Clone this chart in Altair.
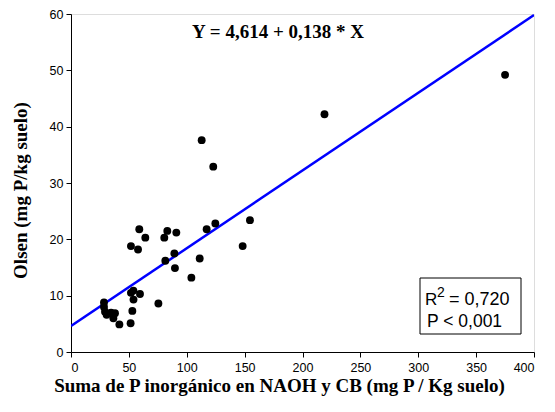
import altair as alt
import pandas as pd

# Data
x_vals = [112.9, 122.9, 124.7, 117.2, 59.0, 64.2, 51.8, 57.9, 83.2, 80.6,
          91.0, 89.3, 81.5, 89.8, 111.2, 104.0, 75.5, 51.8, 53.9, 59.6,
          54.0, 53.0, 51.5, 41.8, 28.5, 28.5, 29.4, 30.8, 34.6, 38.0,
          36.6, 219.0, 375.0, 154.6, 148.3]
y_vals = [37.6, 32.9, 22.8, 21.8, 21.8, 20.3, 18.8, 18.2, 21.5, 20.3,
          21.2, 17.5, 16.2, 14.9, 16.6, 13.2, 8.6, 10.5, 10.9, 10.3,
          9.3, 7.3, 5.1, 4.9, 8.8, 8.0, 7.15, 6.6, 7.0, 6.9,
          6.0, 42.2, 49.2, 23.4, 18.8]
intercept = 4.614
slope = 0.138
line_x = [0, 400]
x_ticks = [0, 50, 100, 150, 200, 250, 300, 350, 400]
y_ticks = [0, 10, 20, 30, 40, 50, 60]

pts = pd.DataFrame({"x": x_vals, "y": y_vals})
fit = pd.DataFrame({"x": line_x, "y": [intercept + slope * v for v in line_x]})

W, H = 463, 338
xscale = alt.Scale(domain=[0, 400], nice=False, zero=False)
yscale = alt.Scale(domain=[0, 60], nice=False, zero=False)

xaxis = alt.Axis(values=x_ticks, grid=False, title="Suma de P inorgánico en NAOH y CB (mg P / Kg suelo)",
                 titleFont="Liberation Serif", titleFontSize=19, titleFontWeight="bold", titleColor="black",
                 titleX=208, titleY=33, titleBaseline="middle", titleAnchor="start", titleAlign="center",
                 labelFont="Liberation Sans", labelFontSize=12.5, labelColor="black", labelPadding=4,
                 tickColor="black", tickSize=5, domainColor="black")
yaxis = alt.Axis(values=y_ticks, grid=False, title="Olsen (mg P/kg suelo)",
                 titleFont="Liberation Serif", titleFontSize=19, titleFontWeight="bold", titleColor="black",
                 titleX=-51, titleY=176, titleBaseline="middle", titleAlign="center", titleAngle=270,
                 labelFont="Liberation Sans", labelFontSize=12.5, labelColor="black", labelPadding=3,
                 tickColor="black", tickSize=5, domainColor="black")

line = alt.Chart(fit).mark_line(color="#0000FF", strokeWidth=2.5, clip=True).encode(
    x=alt.X("x:Q", scale=xscale, axis=xaxis),
    y=alt.Y("y:Q", scale=yscale, axis=yaxis),
)
points = alt.Chart(pts).mark_circle(color="black", opacity=1, size=62).encode(
    x=alt.X("x:Q", scale=xscale),
    y=alt.Y("y:Q", scale=yscale),
)

annot = pd.DataFrame({"a": [0]})
eq = alt.Chart(annot).mark_text(text="Y = 4,614 + 0,138 * X", font="Liberation Serif", fontSize=19,
                                fontWeight="bold", color="black", align="center", baseline="middle").encode(
    x=alt.value(207), y=alt.value(18))
box = alt.Chart(annot).mark_rect(fill="white", stroke="black", strokeWidth=1).encode(
    x=alt.value(349), x2=alt.value(450), y=alt.value(264), y2=alt.value(320))
r_txt = alt.Chart(annot).mark_text(text="R", font="Liberation Sans", fontSize=17, color="black",
                                   align="left", baseline="alphabetic").encode(x=alt.value(354), y=alt.value(291))
r_sup = alt.Chart(annot).mark_text(text="2", font="Liberation Sans", fontSize=14, color="black",
                                   align="left", baseline="alphabetic").encode(x=alt.value(366), y=alt.value(283))
r_val = alt.Chart(annot).mark_text(text="= 0,720", font="Liberation Sans", fontSize=18, color="black",
                                   align="left", baseline="alphabetic").encode(x=alt.value(378), y=alt.value(291))
p_txt = alt.Chart(annot).mark_text(text="P < 0,001", font="Liberation Sans", fontSize=17.5, color="black",
                                   align="left", baseline="alphabetic").encode(x=alt.value(356), y=alt.value(313))

chart = alt.layer(line, points, eq, box, r_txt, r_sup, r_val, p_txt).properties(
    width=W, height=H,
    autosize=alt.AutoSizeParams(type="none"),
    padding={"left": 71, "top": 14, "right": 21, "bottom": 60},
).configure_view(stroke="black", strokeWidth=1).configure(background="white")

chart.save("out.html", embed_options={"renderer": "svg", "actions": False})
